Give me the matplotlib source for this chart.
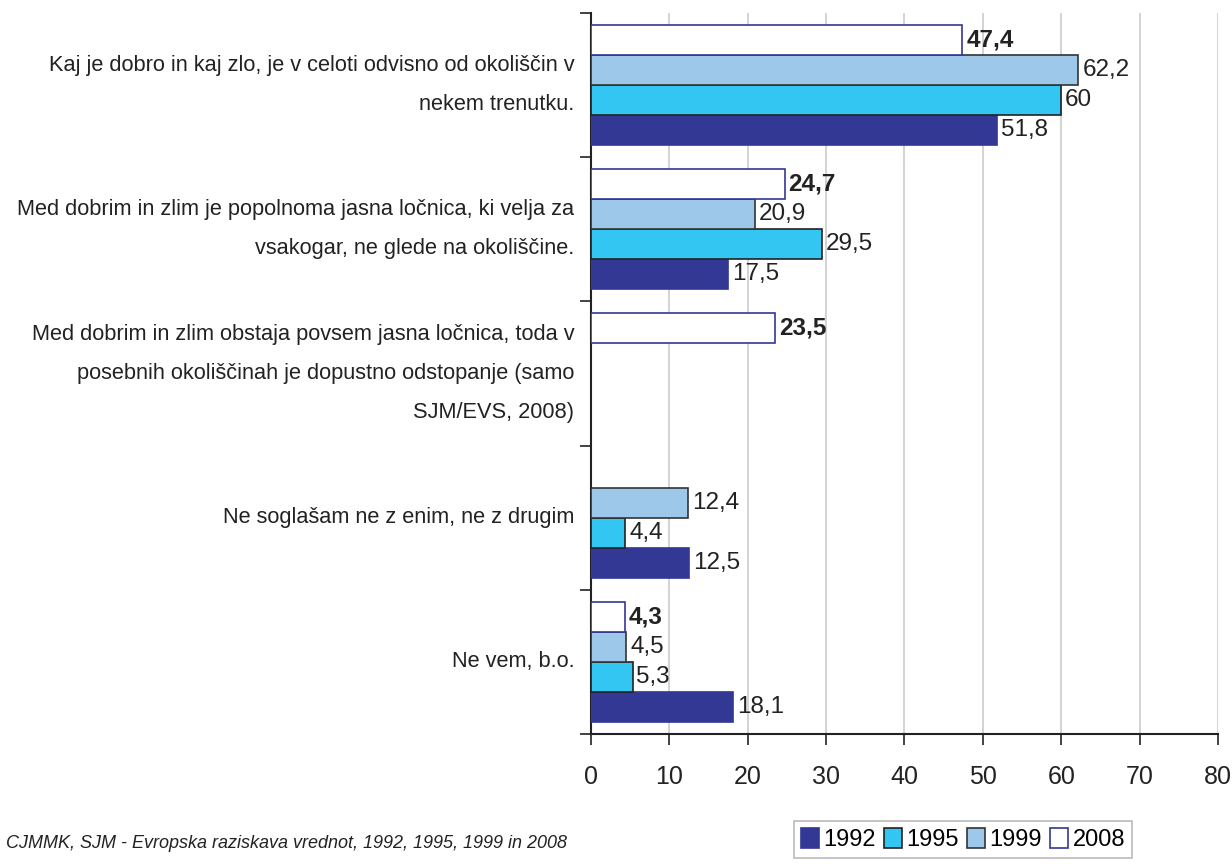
import matplotlib.pyplot as plt
import numpy as np

plt.rcParams['font.family'] = ['Liberation Sans', 'DejaVu Sans']

categories = [
    "Kaj je dobro in kaj zlo, je v celoti odvisno od okoliščin v\nnekem trenutku.",
    "Med dobrim in zlim je popolnoma jasna ločnica, ki velja za\nvsakogar, ne glede na okoliščine.",
    "Med dobrim in zlim obstaja povsem jasna ločnica, toda v\nposebnih okoliščinah je dopustno odstopanje (samo\nSJM/EVS, 2008)",
    "Ne soglašam ne z enim, ne z drugim",
    "Ne vem, b.o.",
]
years = ["1992", "1995", "1999", "2008"]
v1992 = [51.8, 17.5, np.nan, 12.5, 18.1]
v1995 = [60, 29.5, np.nan, 4.4, 5.3]
v1999 = [62.2, 20.9, np.nan, 12.4, 4.5]
v2008 = [47.4, 24.7, 23.5, np.nan, 4.3]

series = [v1992, v1995, v1999, v2008]
faces = ["#333894", "#33c6f2", "#9dc8ea", "white"]
edges = ["#333894", "#222222", "#333333", "#333894"]
offsets = [1.5, 0.5, -0.5, -1.5]

fig = plt.figure(figsize=(12.32, 8.64), dpi=100)
ax = fig.add_axes([0.4797, 0.1505, 0.5089, 0.8345])

y = np.arange(len(categories))
h = 0.208
for vals, fc, ec, off, yr in zip(series, faces, edges, offsets, years):
    vals = np.array(vals, dtype=float)
    ax.barh(y + off * h, vals, height=h, color=fc, edgecolor=ec, linewidth=1.2, label=yr, zorder=3)
    for yi, v in zip(y, vals):
        if np.isnan(v):
            continue
        txt = f"{v:g}".replace('.', ',')
        ax.text(v + 0.5, yi + off * h, txt, va='center', ha='left', fontsize=17.5,
                color='#222222', fontweight='bold' if yr == "2008" else 'normal', zorder=4)

ax.set_xlim(0, 80)
ax.set_ylim(4.5, -0.5)
ax.set_xticks(np.arange(0, 81, 10))
ax.tick_params(axis='x', labelsize=18, length=8, width=1.2, pad=14, colors='#222222', direction='out')
ax.set_yticks(y)
ax.set_yticklabels(categories, fontsize=15.7, color='#222222', linespacing=2.1, va='center')
ax.tick_params(axis='y', which='major', length=0, pad=12)
ax.set_yticks(np.arange(-0.5, 4.6, 1), minor=True)
ax.tick_params(axis='y', which='minor', length=8, width=1.2, direction='out', color='#222222')
ax.grid(axis='x', color='#cccccc', linewidth=1.2, zorder=0)
ax.set_axisbelow(True)
for s in ['top', 'right']:
    ax.spines[s].set_visible(False)
for s in ['left', 'bottom']:
    ax.spines[s].set_color('#222222')
    ax.spines[s].set_linewidth(1.5)

handles, labels = ax.get_legend_handles_labels()
leg = fig.legend(handles, labels, loc='upper center', bbox_to_anchor=(0.7817, 0.0498), ncol=4,
                 fontsize=17, frameon=True, fancybox=False, edgecolor='#aaaaaa',
                 handlelength=0.75, handleheight=0.9, handletextpad=0.2, columnspacing=0.35,
                 borderpad=0.3, borderaxespad=0)
leg.get_frame().set_linewidth(1.2)

fig.text(0.005, 0.018, "CJMMK, SJM - Evropska raziskava vrednot, 1992, 1995, 1999 in 2008",
         fontsize=13, style='italic', color='#222222')

fig.savefig("out.png", dpi=100)
